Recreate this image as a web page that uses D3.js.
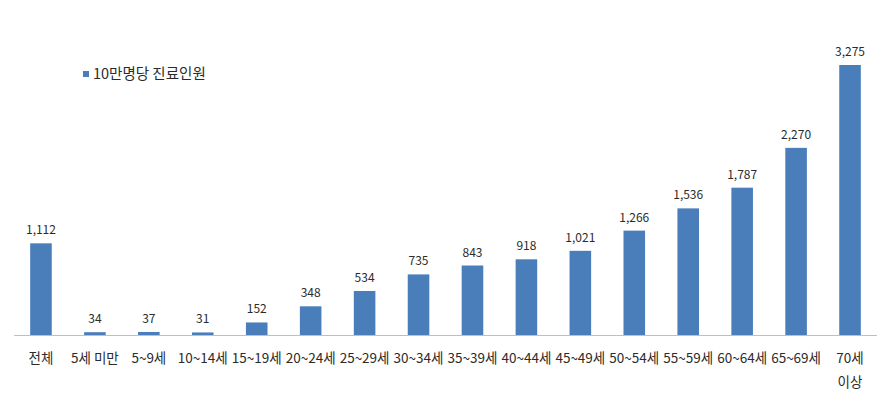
<!DOCTYPE html>
<head>
<meta charset="utf-8">
<script src="https://d3js.org/d3.v7.min.js"></script>
<style>
  body { margin: 0; background: #fff; }
</style>
</head>
<body>
<svg width="889" height="397" font-family="'Noto Sans CJK KR', sans-serif"></svg>
<script>

// 연령별 10만명당 진료인원
let categories = ["전체", "5세 미만", "5~9세", "10~14세", "15~19세", "20~24세", "25~29세", "30~34세",
                  "35~39세", "40~44세", "45~49세", "50~54세", "55~59세", "60~64세", "65~69세", "70세\n이상"];
let values = [1112, 34, 37, 31, 152, 348, 534, 735, 843, 918, 1021, 1266, 1536, 1787, 2270, 3275];
let seriesName = "10만명당 진료인원";

let svg = d3.select("svg");

let baseY = 335;

let x = d3.scaleBand()
    .domain(categories)
    .range([14, 877])
    .paddingInner(0.6)
    .paddingOuter(0.3);

let y = d3.scaleLinear()
    .domain([0, 3275])
    .range([baseY, 65]);

let fmt = d3.format(",");

svg.append("g")
  .selectAll("rect")
  .data(values)
  .enter().append("rect")
    .attr("x", function(d, i) { return x(categories[i]); })
    .attr("y", function(d) { return y(d); })
    .attr("width", x.bandwidth())
    .attr("height", function(d) { return baseY - y(d); })
    .attr("fill", "#4a7ebb");

svg.append("line")
    .attr("x1", 14)
    .attr("x2", 877)
    .attr("y1", baseY + 0.5)
    .attr("y2", baseY + 0.5)
    .attr("stroke", "#bfbfbf");

svg.append("g")
    .attr("font-size", 12)
    .attr("fill", "#2b2b2b")
    .attr("text-anchor", "middle")
  .selectAll("text")
  .data(values)
  .enter().append("text")
    .attr("x", function(d, i) { return x(categories[i]) + x.bandwidth() / 2; })
    .attr("y", function(d) { return y(d) - 9; })
    .text(function(d) { return fmt(d); });

let cat = svg.append("g")
    .attr("font-size", 13.5)
    .attr("fill", "#2b2b2b")
    .attr("text-anchor", "middle")
  .selectAll("text")
  .data(categories)
  .enter().append("text")
    .attr("x", function(d) { return x(d) + x.bandwidth() / 2; })
    .attr("y", 363);

cat.selectAll("tspan")
  .data(function(d) { return d.split("\n"); })
  .enter().append("tspan")
    .attr("x", function() { return this.parentNode.getAttribute("x"); })
    .attr("dy", function(d, i) { return i ? 24 : 0; })
    .text(function(d) { return d; });

let legend = svg.append("g").attr("transform", "translate(83,71)");

legend.append("rect")
    .attr("width", 6)
    .attr("height", 6)
    .attr("fill", "#4a7ebb");

legend.append("text")
    .attr("x", 10)
    .attr("y", 3)
    .attr("dy", "0.35em")
    .attr("font-size", 14.5)
    .attr("fill", "#2b2b2b")
    .text(seriesName);

</script>
</body>
